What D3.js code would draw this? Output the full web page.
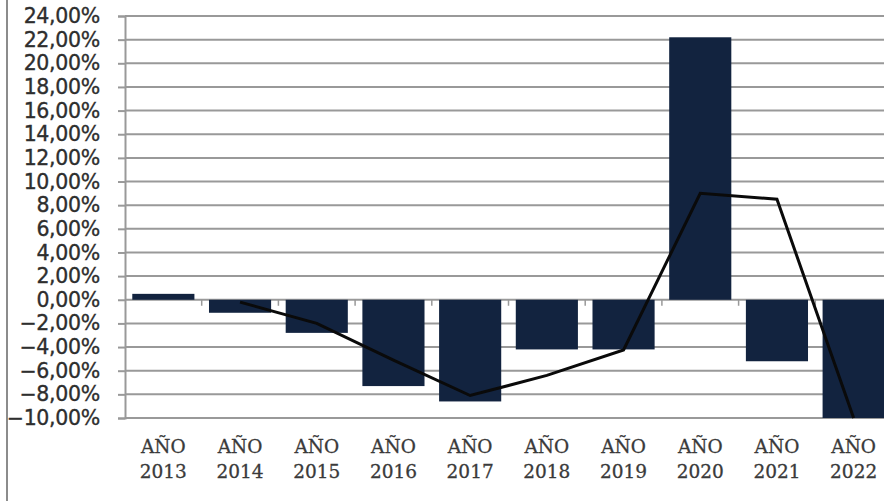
<!DOCTYPE html>
<html>
<head>
<meta charset="utf-8">
<script src="https://cdn.jsdelivr.net/npm/d3@7"></script>
<style>
  html, body { margin: 0; padding: 0; background: #fff; }
  svg { display: block; }
</style>
</head>
<body>
<svg id="chart" width="884" height="501"></svg>
<script>
// ---- data ----
const years = ["2013", "2014", "2015", "2016", "2017", "2018", "2019", "2020", "2021", "2022"];
const categoryPrefix = "AÑO";
const barValues = [0.5, -1.1, -2.8, -7.3, -8.6, -4.2, -4.2, 22.2, -5.2, -10.0];
const lineValues = [null, -0.2, -2.0, -5.1, -8.1, -6.4, -4.25, 9.0, 8.5, -10.0];
const yTicks = [24, 22, 20, 18, 16, 14, 12, 10, 8, 6, 4, 2, 0, -2, -4, -6, -8, -10];

// ---- layout ----
const svg = d3.select("#chart");
const plot = { left: 125, right: 892, top: 16, bottom: 418 };

const x = d3.scaleBand()
  .domain(years)
  .range([plot.left, plot.right])
  .paddingInner(0.19)
  .paddingOuter(0.095);

const y = d3.scaleLinear()
  .domain([-10, 24])
  .range([plot.bottom, plot.top]);

const fmt = v => d3.format(".2f")(v).replace(".", ",") + "%";

// left frame border
svg.append("line")
  .attr("x1", 7).attr("x2", 7).attr("y1", 0).attr("y2", 501)
  .attr("stroke", "#8c8c8c").attr("stroke-width", 2);

// gridlines + y-axis
const yAxis = d3.axisLeft(y)
  .tickValues(yTicks)
  .tickSize(7)
  .tickPadding(18)
  .tickFormat(fmt);

const gGrid = svg.append("g");
gGrid.selectAll("line")
  .data(yTicks)
  .join("line")
  .attr("x1", plot.left).attr("x2", 884)
  .attr("y1", d => y(d)).attr("y2", d => y(d))
  .attr("stroke", "#999").attr("stroke-width", 2);

const gy = svg.append("g")
  .attr("transform", `translate(${plot.left},0)`)
  .call(yAxis);
gy.select(".domain").attr("stroke", "#999").attr("stroke-width", 2);
gy.selectAll(".tick line").attr("stroke", "#999").attr("stroke-width", 2);
gy.selectAll(".tick text")
  .attr("fill", "#2e2e2e")
  .attr("stroke", "#2e2e2e")
  .attr("stroke-width", 0.35)
  .style("font-family", "'DejaVu Sans', Verdana, sans-serif")
  .style("font-size", "20.5px")
  .style("letter-spacing", "-0.3px");

// bars
svg.append("g")
  .selectAll("rect")
  .data(years.map((yr, i) => ({ yr, v: barValues[i] })))
  .join("rect")
  .attr("x", d => x(d.yr))
  .attr("width", x.bandwidth())
  .attr("y", d => y(Math.max(0, d.v)))
  .attr("height", d => Math.abs(y(d.v) - y(0)))
  .attr("fill", "#12233f");

// category axis ticks at zero line (between categories)
const step = x.step();
const boundaries = years.slice(1).map(yr => x(yr) - (step - x.bandwidth()) / 2);
svg.append("g")
  .selectAll("line")
  .data(boundaries)
  .join("line")
  .attr("x1", d => d).attr("x2", d => d)
  .attr("y1", y(0)).attr("y2", y(0) + 6)
  .attr("stroke", "#999").attr("stroke-width", 1.5);

// line series
const lineData = years.map((yr, i) => ({ yr, v: lineValues[i] }));
const line = d3.line()
  .defined(d => d.v !== null)
  .x(d => x(d.yr) + x.bandwidth() / 2)
  .y(d => y(d.v));
svg.append("path")
  .datum(lineData)
  .attr("d", line)
  .attr("fill", "none")
  .attr("stroke", "#0a0a0a")
  .attr("stroke-width", 3)
  .attr("stroke-linejoin", "miter");

// category labels
const gx = svg.append("g");
years.forEach(yr => {
  const cx = x(yr) + x.bandwidth() / 2;
  const t = gx.append("text")
    .attr("x", cx)
    .attr("text-anchor", "middle")
    .attr("fill", "#3a3a3a")
    .attr("stroke", "#3a3a3a")
    .attr("stroke-width", 0.3)
    .style("font-family", "'DejaVu Serif', 'Liberation Serif', serif")
    .style("font-size", "18.5px");
  t.append("tspan").attr("x", cx).attr("y", 453).text(categoryPrefix);
  t.append("tspan").attr("x", cx).attr("y", 478).text(yr);
});
</script>
</body>
</html>
